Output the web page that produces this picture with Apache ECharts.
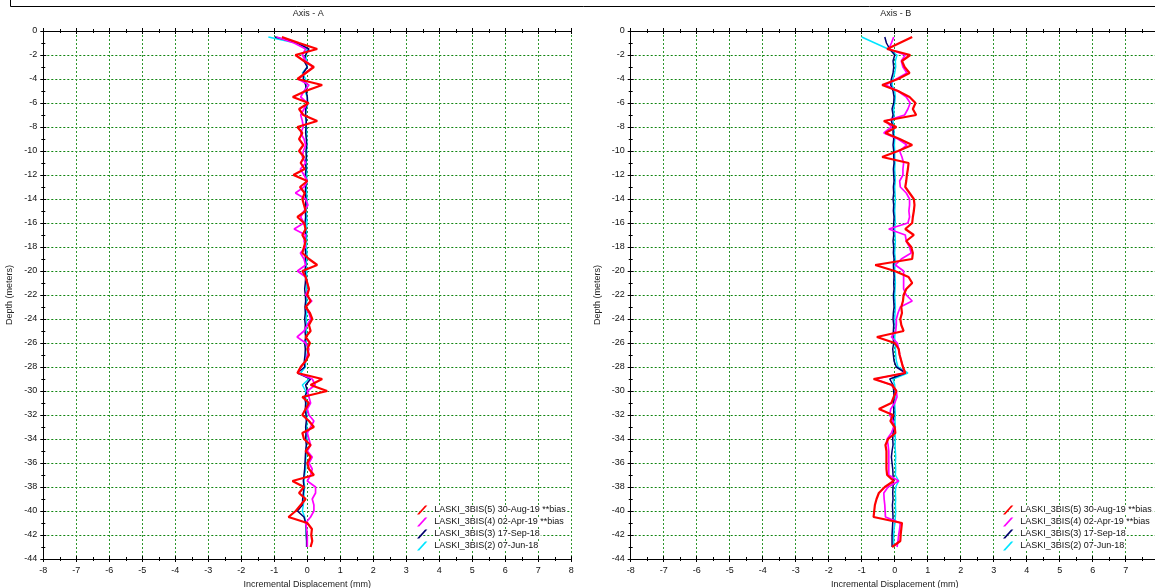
<!DOCTYPE html>
<html>
<head>
<meta charset="utf-8">
<style>
  html, body { margin: 0; padding: 0; background: #fff; }
  #chart { width: 1155px; height: 588px; }
</style>
<script src="https://cdn.jsdelivr.net/npm/echarts@6/dist/echarts.min.js"></script>
</head>
<body>
<div id="chart"></div>
<script>
// Probe reading depths (m), one reading every 0.5 m
const depths = [
  -0.5, -1, -1.5, -2, -2.5, -3, -3.5, -4, -4.5, -5,
  -5.5, -6, -6.5, -7, -7.5, -8, -8.5, -9, -9.5, -10,
  -10.5, -11, -11.5, -12, -12.5, -13, -13.5, -14, -14.5, -15,
  -15.5, -16, -16.5, -17, -17.5, -18, -18.5, -19, -19.5, -20,
  -20.5, -21, -21.5, -22, -22.5, -23, -23.5, -24, -24.5, -25,
  -25.5, -26, -26.5, -27, -27.5, -28, -28.5, -29, -29.5, -30,
  -30.5, -31, -31.5, -32, -32.5, -33, -33.5, -34, -34.5, -35,
  -35.5, -36, -36.5, -37, -37.5, -38, -38.5, -39, -39.5, -40,
  -40.5, -41, -41.5, -42, -42.5, -43
];

const seriesNames = [
  'LASKI_3BIS(5) 30-Aug-19 **bias',
  'LASKI_3BIS(4) 02-Apr-19 **bias',
  'LASKI_3BIS(3) 17-Sep-18',
  'LASKI_3BIS(2) 07-Jun-18'
];
const seriesColors = ['#ff0000', '#ff00ff', '#00006e', '#00e5ff'];
const seriesWidths = [2.2, 1.7, 1.5, 1.5];

const xTicks = [-8, -7, -6, -5, -4, -3, -2, -1, 0, 1, 2, 3, 4, 5, 6, 7, 8];
const yTicks = [0, -2, -4, -6, -8, -10, -12, -14, -16, -18, -20, -22,
  -24, -26, -28, -30, -32, -34, -36, -38, -40, -42, -44];

// Axis A incremental displacement (mm)
const axisA_5 = [
  -0.77, -0.25, 0.30, -0.36, -0.10, 0.20, -0.05, -0.30, 0.45, -0.05,
  -0.44, 0.04, -0.25, -0.12, 0.30, -0.30, -0.15, -0.25, -0.12, -0.25,
  -0.10, -0.20, -0.08, -0.42, 0.00, -0.22, -0.08, -0.15, -0.10, -0.05,
  -0.30, -0.10, -0.05, -0.15, -0.05, -0.10, -0.15, 0.05, 0.30, -0.15,
  -0.05, 0.00, 0.05, 0.00, 0.10, -0.05, 0.08, 0.15, 0.05, 0.10,
  -0.05, 0.08, 0.00, 0.05, -0.05, -0.20, -0.30, 0.45, 0.10, 0.60,
  -0.15, 0.05, -0.05, -0.15, 0.05, 0.20, -0.15, -0.10, 0.10, -0.05,
  0.10, 0.00, 0.05, 0.20, -0.45, -0.10, -0.25, -0.05, -0.20, -0.35,
  -0.57, 0.00, 0.14, 0.12, 0.15, 0.10
];
const axisA_4 = [
  -0.93, -0.40, -0.05, -0.15, -0.05, 0.17, -0.05, -0.28, 0.05, -0.10,
  -0.20, 0.00, -0.10, -0.20, -0.15, -0.12, -0.20, -0.10, -0.05, -0.12,
  -0.15, -0.05, -0.21, -0.10, 0.00, -0.10, -0.36, -0.05, 0.02, -0.10,
  -0.20, -0.10, -0.40, -0.05, -0.10, -0.05, -0.21, -0.10, -0.05, -0.30,
  -0.05, 0.00, 0.05, -0.05, 0.14, -0.05, 0.05, 0.10, 0.00, -0.10,
  -0.31, -0.05, 0.05, 0.00, -0.05, -0.20, -0.28, 0.15, 0.24, 0.00,
  0.05, 0.10, 0.00, 0.05, 0.20, 0.10, 0.00, 0.05, 0.10, 0.00,
  0.15, 0.05, 0.15, 0.10, 0.00, 0.25, 0.25, 0.15, 0.20, 0.20,
  0.10, -0.05, -0.02, 0.00, 0.00, 0.00
];
const axisA_3 = [
  -0.98, -0.30, 0.05, -0.05, -0.10, 0.00, -0.12, -0.12, -0.05, -0.03,
  0.00, 0.00, -0.05, -0.05, -0.03, -0.04, -0.05, -0.03, -0.02, -0.04,
  -0.03, -0.05, -0.04, -0.06, -0.03, -0.05, -0.06, -0.04, -0.05, -0.06,
  -0.05, -0.07, -0.06, -0.05, -0.06, -0.07, -0.05, -0.06, -0.05, -0.07,
  -0.05, -0.06, -0.08, -0.06, -0.05, -0.07, -0.06, -0.08, -0.06, -0.07,
  -0.05, -0.08, -0.06, -0.07, -0.09, -0.08, -0.30, 0.10, -0.05, 0.00,
  -0.08, -0.05, -0.06, -0.04, -0.03, -0.05, -0.04, -0.05, -0.03, -0.05,
  -0.06, -0.07, -0.08, -0.10, -0.12, -0.10, -0.12, -0.14, -0.15, -0.30,
  -0.10, -0.05, -0.03, -0.03, -0.02, -0.02
];
const axisA_2 = [
  -1.18, -0.35, 0.00, -0.05, -0.02, 0.00, -0.15, -0.05, -0.02, -0.08,
  0.00, 0.02, -0.03, -0.06, -0.04, -0.03, -0.02, -0.02, -0.01, -0.02,
  -0.02, -0.03, -0.02, -0.02, -0.01, -0.03, -0.02, -0.01, -0.02, -0.03,
  -0.02, -0.01, -0.03, -0.02, -0.02, -0.03, -0.01, -0.02, -0.03, -0.02,
  -0.02, -0.03, -0.02, -0.01, -0.02, -0.03, -0.02, -0.03, -0.02, -0.03,
  -0.04, -0.03, -0.05, -0.04, -0.05, -0.06, -0.20, 0.05, -0.15, -0.05,
  -0.05, -0.03, -0.02, -0.02, -0.01, -0.02, -0.02, -0.01, -0.02, -0.03,
  -0.04, -0.05, -0.05, -0.08, -0.10, -0.08, -0.10, -0.10, -0.12, -0.15,
  -0.08, -0.05, -0.04, -0.03, -0.02, -0.02
];

// Axis B incremental displacement (mm)
const axisB_5 = [
  0.53, 0.15, -0.23, 0.47, 0.22, 0.30, 0.45, 0.10, -0.38, 0.10,
  0.45, 0.63, 0.55, 0.65, -0.33, 0.05, -0.28, 0.15, 0.53, 0.10,
  -0.38, 0.42, 0.40, 0.37, 0.35, 0.32, 0.45, 0.58, 0.60, 0.58,
  0.55, 0.53, 0.32, 0.58, 0.35, 0.50, 0.55, 0.53, -0.59, 0.00,
  0.42, 0.53, 0.35, 0.27, 0.25, 0.20, 0.22, 0.17, 0.20, 0.27,
  -0.54, 0.00, 0.12, 0.15, 0.20, 0.25, 0.32, -0.64, -0.08, 0.05,
  -0.03, -0.10, -0.48, -0.05, -0.13, 0.00, 0.02, -0.20, -0.28, -0.25,
  -0.25, -0.25, -0.25, -0.23, -0.03, -0.30, -0.48, -0.55, -0.60, -0.62,
  -0.64, 0.22, 0.20, 0.18, 0.17, -0.08
];
const axisB_4 = [
  -0.03, -0.10, -0.18, 0.32, 0.20, 0.25, 0.37, 0.05, -0.28, 0.10,
  0.35, 0.47, 0.40, 0.30, -0.28, -0.10, -0.33, 0.10, 0.37, 0.15,
  0.22, 0.27, 0.25, 0.25, 0.15, 0.17, 0.35, 0.45, 0.45, 0.43,
  0.45, 0.40, -0.18, 0.32, 0.35, 0.45, 0.50, 0.20, 0.02, 0.27,
  0.27, 0.27, 0.27, 0.35, 0.53, 0.17, 0.10, 0.05, 0.05, 0.03,
  -0.10, 0.08, 0.12, 0.15, 0.20, 0.25, 0.30, -0.59, -0.10, 0.05,
  0.07, 0.00, -0.12, -0.15, -0.05, -0.03, -0.10, -0.23, -0.20, -0.18,
  -0.18, -0.18, -0.18, -0.18, 0.12, -0.20, -0.33, -0.32, -0.30, -0.29,
  -0.28, 0.17, 0.15, 0.12, 0.10, 0.07
];
const axisB_3 = [
  -0.30, -0.25, -0.15, 0.00, -0.05, -0.03, -0.05, -0.10, -0.12, -0.05,
  -0.02, -0.03, -0.08, -0.05, -0.10, -0.05, -0.05, -0.03, -0.05, -0.03,
  -0.03, -0.02, -0.04, -0.03, -0.02, -0.04, -0.03, -0.05, -0.03, -0.04,
  -0.02, -0.03, -0.04, -0.03, -0.05, -0.03, -0.04, -0.02, -0.04, -0.03,
  -0.02, -0.03, -0.02, -0.04, -0.03, -0.02, -0.04, -0.05, -0.03, -0.04,
  -0.05, -0.03, -0.06, -0.04, -0.02, 0.05, 0.33, -0.15, -0.05, -0.03,
  -0.02, -0.04, -0.03, -0.03, -0.04, -0.03, -0.05, -0.06, -0.05, -0.08,
  -0.10, -0.08, -0.06, -0.05, -0.04, -0.05, -0.06, -0.05, -0.07, -0.06,
  -0.05, -0.06, -0.07, -0.08, -0.08, -0.08
];
const axisB_2 = [
  -1.00, -0.60, -0.20, 0.07, 0.02, 0.03, 0.00, -0.05, -0.08, 0.00,
  0.02, 0.00, -0.03, -0.02, -0.05, -0.02, -0.02, 0.00, -0.01, 0.00,
  0.00, 0.01, 0.00, 0.01, 0.02, 0.00, 0.01, 0.02, 0.01, 0.00,
  0.01, 0.02, 0.00, 0.01, 0.02, 0.01, 0.00, 0.02, 0.01, 0.00,
  0.01, 0.02, 0.01, 0.00, 0.01, 0.02, 0.01, 0.00, 0.01, 0.02,
  0.00, 0.01, 0.02, 0.03, 0.05, 0.10, 0.40, -0.05, 0.00, 0.01,
  0.02, 0.00, 0.01, 0.02, 0.01, 0.02, 0.01, 0.02, 0.01, 0.02,
  0.03, 0.02, 0.03, 0.02, 0.12, 0.03, 0.02, 0.03, 0.02, 0.03,
  0.02, 0.01, -0.02, -0.03, -0.03, -0.02
];

const FONT = 'Liberation Sans, Arial, sans-serif';
const GRID_H = '#108510';
const GRID_V = '#2e962e';

const panels = [
  { title: 'Axis - A', left: 43.3, legendLeft: 417, values: [axisA_5, axisA_4, axisA_3, axisA_2] },
  { title: 'Axis - B', left: 630.7, legendLeft: 1003, values: [axisB_5, axisB_4, axisB_3, axisB_2] }
];
const PLOT_TOP = 31;
const PLOT_SIZE = 528;

function tickAxis(gridIndex, position, inside, withLine) {
  return {
    type: 'value', gridIndex: gridIndex, position: position,
    min: xTicks[0], max: xTicks[xTicks.length - 1], interval: 1,
    axisLine: { show: withLine, onZero: false, lineStyle: { color: '#000', width: 1 } },
    axisTick: { show: true, inside: inside, length: 3, lineStyle: { color: '#000' } },
    minorTick: { show: true, splitNumber: 2, length: 2, lineStyle: { color: '#000' } },
    axisLabel: { show: false },
    splitLine: { show: false }
  };
}
function yTickAxis(gridIndex, inside, withLine) {
  return {
    type: 'value', gridIndex: gridIndex, position: 'left',
    min: yTicks[yTicks.length - 1], max: yTicks[0], interval: 2,
    axisLine: { show: withLine, onZero: false, lineStyle: { color: '#000', width: 1 } },
    axisTick: { show: true, inside: inside, length: 3, lineStyle: { color: '#000' } },
    minorTick: { show: true, splitNumber: 2, length: 2, lineStyle: { color: '#000' } },
    axisLabel: { show: false },
    splitLine: { show: false }
  };
}

const grids = [], xAxes = [], yAxes = [], series = [], titles = [], legends = [];
panels.forEach(function (p, gi) {
  grids.push({
    left: p.left, top: PLOT_TOP, width: PLOT_SIZE, height: PLOT_SIZE,
    containLabel: false, outerBoundsMode: 'none'
  });
  titles.push({
    text: p.title, left: p.left + PLOT_SIZE / 2 + 1, top: 9, padding: 0, textAlign: 'center',
    textStyle: { fontFamily: FONT, fontSize: 9, fontWeight: 'normal', color: '#222' }
  });

  const xMain = tickAxis(gi, 'bottom', false, true);
  xMain.axisLabel = { show: true, fontFamily: FONT, fontSize: 9, color: '#111', margin: 7 };
  xMain.splitLine = { show: true, lineStyle: { color: GRID_V, type: [2, 2], width: 1 } };
  xMain.name = 'Incremental Displacement (mm)';
  xMain.nameLocation = 'middle';
  xMain.nameGap = 19;
  xMain.nameTextStyle = { fontFamily: FONT, fontSize: 9, color: '#222' };
  const xBase = xAxes.length;
  xAxes.push(xMain, tickAxis(gi, 'bottom', true, false), tickAxis(gi, 'top', false, true), tickAxis(gi, 'top', true, false));

  const yMain = yTickAxis(gi, false, true);
  yMain.axisLabel = { show: true, fontFamily: FONT, fontSize: 9, color: '#111', margin: 6 };
  yMain.splitLine = { show: true, lineStyle: { color: GRID_H, type: [2, 2], width: 1 } };
  yMain.name = 'Depth (meters)';
  yMain.nameLocation = 'middle';
  yMain.nameGap = 29;
  yMain.nameTextStyle = { fontFamily: FONT, fontSize: 9, color: '#222' };
  const yBase = yAxes.length;
  yAxes.push(yMain, yTickAxis(gi, true, false));

  // draw oldest reading first so the latest one sits on top
  for (let k = seriesNames.length - 1; k >= 0; k--) {
    series.push({
      name: seriesNames[k], type: 'line', xAxisIndex: xBase, yAxisIndex: yBase,
      showSymbol: false, symbol: 'none', silent: true, animation: false,
      lineStyle: { color: seriesColors[k], width: seriesWidths[k] },
      itemStyle: { color: seriesColors[k] },
      data: p.values[k].map(function (v, i) { return [v, depths[i]]; })
    });
  }

  legends.push({
    data: seriesNames, orient: 'vertical', left: p.legendLeft, top: 505.5,
    padding: 0, itemGap: 3, itemWidth: 12, itemHeight: 9,
    icon: 'path://M0,10L9,0L11.5,0L2.5,10Z',
    selectedMode: false,
    textStyle: { fontFamily: FONT, fontSize: 9, color: '#111', backgroundColor: '#fff', padding: [0, 1, 0, 1] }
  });
});

const chart = echarts.init(document.getElementById('chart'), null, { renderer: 'canvas' });
chart.setOption({
  backgroundColor: '#fff',
  animation: false,
  title: titles,
  grid: grids,
  xAxis: xAxes,
  yAxis: yAxes,
  legend: legends,
  series: series,
  graphic: [{
    type: 'rect', silent: true,
    shape: { x: 10.5, y: -20, width: 1200, height: 26.5 },
    style: { fill: 'none', stroke: '#000', lineWidth: 1 }
  }]
});
</script>
</body>
</html>
